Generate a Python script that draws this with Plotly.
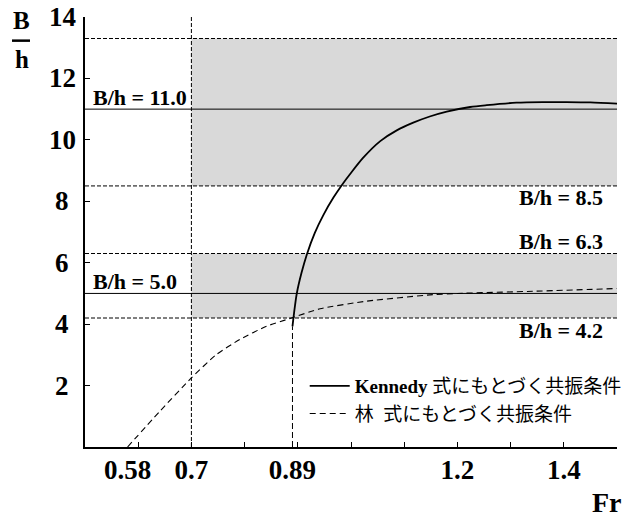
import plotly.graph_objects as go

# ---------------- data ----------------
kennedy_fr = [0.890, 0.893, 0.898, 0.907, 0.917, 0.932, 0.948, 0.967, 0.985, 0.998, 1.023,
              1.055, 1.086, 1.117, 1.148, 1.180, 1.224, 1.255, 1.311, 1.360, 1.405, 1.450, 1.500]
kennedy_bh = [3.93, 4.37, 4.99, 5.67, 6.27, 6.97, 7.55, 8.12, 8.58, 8.88, 9.42,
              9.96, 10.31, 10.56, 10.76, 10.92, 11.07, 11.13, 11.21, 11.23, 11.23, 11.22, 11.18]

lin_fr = [0.580, 0.640, 0.700, 0.747, 0.791, 0.841, 0.888, 0.942, 1.030, 1.154, 1.200, 1.342, 1.500]
lin_bh = [0.00, 1.15, 2.25, 3.01, 3.50, 3.93, 4.20, 4.50, 4.75, 4.96, 5.00, 5.07, 5.16]

band_fr_start = 0.7
bands = [(8.5, 13.3), (4.2, 6.3)]          # shaded resonance ranges
dashed_levels = [13.3, 8.5, 6.3, 4.2]
solid_levels = [11.0, 5.0]
vline_fr = [0.7, 0.89]
vline_top = [14.0, 3.93]

x_range = [0.5, 1.5]
y_range = [0, 14]
x_minor_ticks = [0.6, 0.7, 0.8, 0.9, 1.0, 1.1, 1.2, 1.3, 1.4, 1.5]
x_label_vals = [0.58, 0.7, 0.89, 1.2, 1.4]
x_label_text = ["0.58", "0.7", "0.89", "1.2", "1.4"]
y_tick_vals = [2, 4, 6, 8, 10, 12, 14]

left_labels = [(11.0, "B/h = 11.0", 1), (5.0, "B/h = 5.0", 1)]
right_labels = [(13.3, "B/h = 13.3", 1, 1.5038), (8.5, "B/h = 8.5", -1, 1.4774),
                (6.3, "B/h = 6.3", 1, 1.4774), (4.2, "B/h = 4.2", -1, 1.4774)]

SERIF = "Liberation Serif, Noto Sans CJK JP"

fig = go.Figure()

fig.add_trace(go.Scatter(
    x=kennedy_fr, y=kennedy_bh, mode="lines",
    line=dict(color="black", width=1.8, shape="spline", smoothing=0.8),
    name="<b>Kennedy</b> 式にもとづく共振条件", legendgroup="k", hoverinfo="skip"))
fig.add_trace(go.Scatter(
    x=lin_fr, y=lin_bh, mode="lines",
    line=dict(color="black", width=1.1, dash="6px,4px", shape="spline", smoothing=0.6),
    name="林  式にもとづく共振条件", legendgroup="l", hoverinfo="skip", xaxis="x2"))

shapes = []
for lo, hi in bands:
    shapes.append(dict(type="rect", xref="x", yref="y", x0=band_fr_start, x1=x_range[1], y0=lo, y1=hi,
                       fillcolor="#d9d9d9", line=dict(width=0), layer="below"))
for lv in dashed_levels:
    shapes.append(dict(type="line", xref="x", yref="y", x0=x_range[0], x1=x_range[1], y0=lv, y1=lv,
                       line=dict(color="black", width=1, dash="4px,2px"), layer="below"))
for lv in solid_levels:
    shapes.append(dict(type="line", xref="x", yref="y", x0=x_range[0], x1=x_range[1], y0=lv, y1=lv,
                       line=dict(color="black", width=1), layer="below"))
for xv, top, dsh in zip(vline_fr, vline_top, ["4px,2px", "6px,3px"]):
    shapes.append(dict(type="line", xref="x", yref="y", x0=xv, x1=xv, y0=0, y1=top,
                       line=dict(color="black", width=1, dash=dsh), layer="below"))
# fraction bar of the B/h axis title
shapes.append(dict(type="line", xref="paper", yref="paper", x0=-0.1372, x1=-0.1034, y0=0.945, y1=0.945,
                   line=dict(color="black", width=2.5)))

BOLD = dict(family=SERIF, color="black", weight="bold")

annotations = []
for lv, txt, sgn in left_labels:
    annotations.append(dict(x=0.511, y=lv, xref="x", yref="y", text=txt, showarrow=False,
                            xanchor="left", yanchor="middle", yshift=12 * sgn,
                            font=dict(BOLD, size=22)))
for lv, txt, sgn, xv in right_labels:
    annotations.append(dict(x=xv, y=lv, xref="x", yref="y", text=txt, showarrow=False,
                            xanchor="right", yanchor="middle", yshift=12 * sgn,
                            font=dict(BOLD, size=22)))
for v in y_tick_vals:
    annotations.append(dict(x=-0.0432, y=v, xref="paper", yref="y", text="%d" % v, showarrow=False,
                            xanchor="center", yanchor="middle", font=dict(BOLD, size=27)))
annotations.append(dict(x=-0.119, y=0.991, xref="paper", yref="paper", text="B", showarrow=False,
                        xanchor="center", yanchor="middle", font=dict(BOLD, size=25)))
annotations.append(dict(x=-0.119, y=0.902, xref="paper", yref="paper", text="h", showarrow=False,
                        xanchor="center", yanchor="middle", font=dict(BOLD, size=25)))
annotations.append(dict(x=0.982, y=-0.128, xref="paper", yref="paper", text="Fr", showarrow=False,
                        xanchor="center", yanchor="middle", font=dict(BOLD, size=28)))

fig.update_layout(
    width=634, height=517,
    margin=dict(l=85, r=17, t=17, b=70, autoexpand=False),
    paper_bgcolor="white", plot_bgcolor="white",
    showlegend=True,
    legend=dict(x=0.413, y=0.186, xanchor="left", yanchor="top", bgcolor="rgba(0,0,0,0)",
                font=dict(family=SERIF, size=19, color="black"), tracegroupgap=0, itemwidth=40),
    xaxis=dict(range=x_range, tickvals=x_minor_ticks, ticks="inside", ticklen=5, tickcolor="black",
               showticklabels=False, showline=True, linewidth=2, linecolor="black",
               showgrid=False, zeroline=False),
    xaxis2=dict(range=x_range, overlaying="x", anchor="y", side="bottom", tickvals=x_label_vals,
                ticktext=x_label_text, ticks="", showline=False, showgrid=False, zeroline=False,
                tickfont=dict(BOLD, size=27), ticklabelstandoff=4),
    yaxis=dict(range=y_range, tickvals=y_tick_vals, ticks="inside", ticklen=5, tickcolor="black",
               showticklabels=False, showline=True, linewidth=2, linecolor="black",
               showgrid=False, zeroline=False),
    shapes=shapes, annotations=annotations,
)

fig.write_html("out.html")
